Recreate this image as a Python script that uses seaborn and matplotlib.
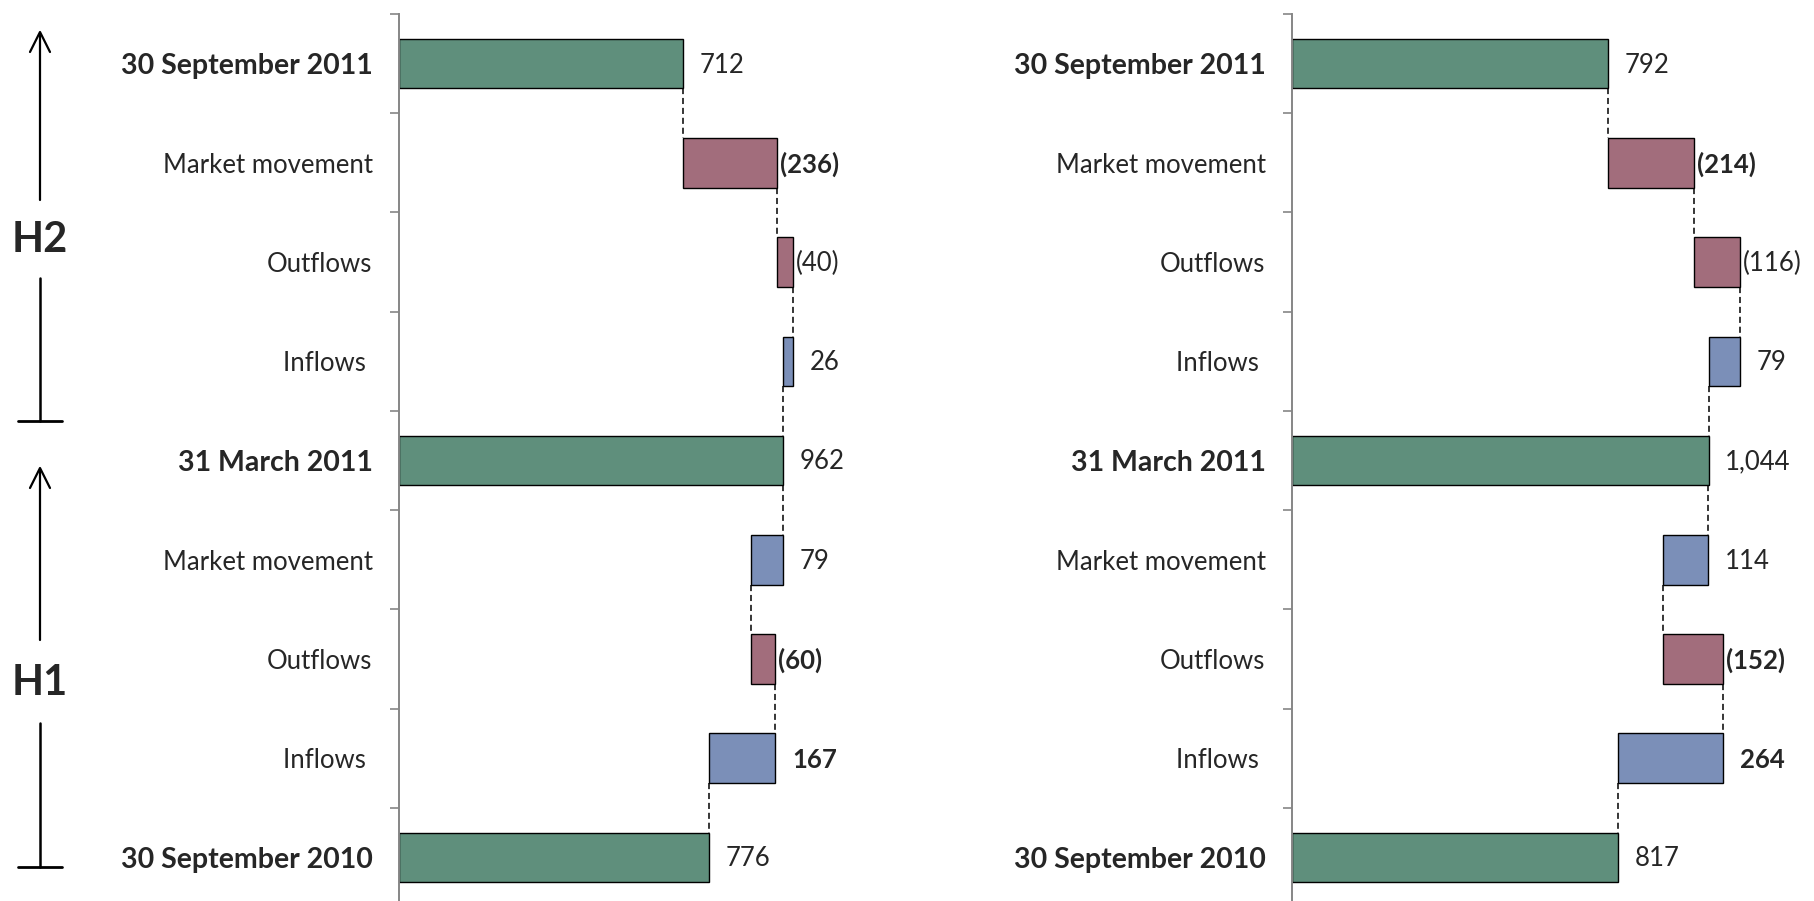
import numpy as np
import pandas as pd
import matplotlib
matplotlib.use("Agg")
import matplotlib.pyplot as plt
from matplotlib.lines import Line2D
import seaborn as sns

# row labels, top to bottom (trailing space on "Inflows " as in the source)
row_labels = ["30 September 2011", "Market movement", "Outflows", "Inflows ",
              "31 March 2011", "Market movement", "Outflows", "Inflows ",
              "30 September 2010"]
total_rows = [0, 4, 8]
bold_value_rows = [1, 6, 7]

# left panel, chronological: opening, H1 moves (inflows, outflows, market), mid, H2 moves, closing
left_opening = 776
left_h1 = [167, -60, 79]
left_mid = 962
left_h2 = [26, -40, -236]
left_closing = 712

# right panel
right_opening = 817
right_h1 = [264, -152, 114]
right_mid = 1044
right_h2 = [79, -116, -214]
right_closing = 792

green = "#5f8f7c"
blue = "#7b8fb8"
mauve = "#a26d7c"
spine_grey = "#868686"

sns.set_style("white")
plt.rcParams["font.family"] = ["Lato", "DejaVu Sans"]

W, H = 1814, 901
fig = plt.figure(figsize=(W / 100, H / 100), dpi=100)

px_per_unit = 0.399
xmax = 1300
ax_w = xmax * px_per_unit / W
ax_bottom = -0.0067
ax_h = 0.9911


def fmt(v):
    s = f"{abs(v):,}"
    return f"({s})" if v < 0 else s


def waterfall(ax, opening, h1, mid, h2, closing):
    steps = [("total", opening)] + [("delta", v) for v in h1] + \
            [("total", mid)] + [("delta", v) for v in h2] + [("total", closing)]
    starts, lengths, colors, after, shown = [], [], [], [], []
    running = 0
    for kind, v in steps:
        if kind == "total":
            lo, hi = 0, v
            running = v
            colors.append(green)
        else:
            lo, hi = sorted([running, running + v])
            running += v
            colors.append(blue if v > 0 else mauve)
        starts.append(lo)
        lengths.append(hi - lo)
        after.append(running)
        shown.append(v)
    # flip to top-down order
    starts, lengths, colors = starts[::-1], lengths[::-1], colors[::-1]
    after, shown = after[::-1], shown[::-1]

    df = pd.DataFrame({"row": [f"r{i}" for i in range(len(starts))],
                       "length": lengths})
    sns.barplot(data=df, x="length", y="row", order=list(df["row"]),
                orient="y", left=np.array(starts), color=green,
                edgecolor="black", linewidth=1.0, width=0.5,
                errorbar=None, ax=ax)
    for patch, c in zip(ax.patches, colors):
        patch.set_facecolor(c)

    # dashed connectors between neighbouring bars
    for r in range(len(starts) - 1):
        ax.vlines(after[r + 1], r + 0.25, r + 0.75, colors="black",
                  linestyles=(0, (4, 2.5)), linewidth=1.1)

    # value labels
    for r, v in enumerate(shown):
        end = starts[r] + lengths[r]
        pad = 2 if v < 0 else 12
        ax.annotate(fmt(v), (end, r), xytext=(pad, -1), textcoords="offset points",
                    ha="left", va="center", fontsize=18.5,
                    fontweight="bold" if r in bold_value_rows else "normal")

    ax.set_xlim(0, xmax)
    ax.set_ylim(len(starts) - 0.5, -0.5)
    ax.set_yticks(range(len(row_labels)))
    ax.set_yticklabels(row_labels)
    for r, t in enumerate(ax.get_yticklabels()):
        if r in total_rows:
            t.set_fontweight("bold")
            t.set_fontsize(20.5)
        else:
            t.set_fontsize(18.5)
    ax.set_yticks(np.arange(-0.5, len(row_labels), 1), minor=True)
    ax.tick_params(axis="y", which="major", length=0, pad=19)
    ax.tick_params(axis="y", which="minor", length=6.5, width=1.2,
                   color=spine_grey, left=True)
    ax.set_xticks([])
    ax.set_xlabel("")
    ax.set_ylabel("")
    for side in ["top", "right", "bottom"]:
        ax.spines[side].set_visible(False)
    ax.spines["left"].set_color(spine_grey)
    ax.spines["left"].set_linewidth(1.4)


ax_left = fig.add_axes([399 / W, ax_bottom, ax_w, ax_h])
waterfall(ax_left, left_opening, left_h1, left_mid, left_h2, left_closing)

ax_right = fig.add_axes([1292 / W, ax_bottom, ax_w, ax_h])
waterfall(ax_right, right_opening, right_h1, right_mid, right_h2, right_closing)


# H2 / H1 period markers on the far left (figure pixel positions, y from top)
def fx(x):
    return x / W


def fy(y):
    return 1 - y / H


def period_marker(text, tip_y, gap_top, text_y, gap_bottom, base_y, x=40):
    fig.add_artist(Line2D([fx(x), fx(x)], [fy(gap_top), fy(tip_y + 2)],
                          color="black", lw=1.6))
    fig.add_artist(Line2D([fx(x - 10), fx(x), fx(x + 10)],
                          [fy(tip_y + 20), fy(tip_y), fy(tip_y + 20)],
                          color="black", lw=1.6))
    fig.text(fx(x), fy(text_y), text, ha="center", va="center",
             fontsize=30, fontweight="bold")
    fig.add_artist(Line2D([fx(x), fx(x)], [fy(gap_bottom), fy(base_y)],
                          color="black", lw=1.8))
    fig.add_artist(Line2D([fx(x - 22), fx(x + 22)], [fy(base_y), fy(base_y)],
                          color="black", lw=2.0))


period_marker("H2", 32, 200, 240, 278, 421)
period_marker("H1", 468, 640, 683, 723, 867)

fig.savefig("out.png", dpi=100)
